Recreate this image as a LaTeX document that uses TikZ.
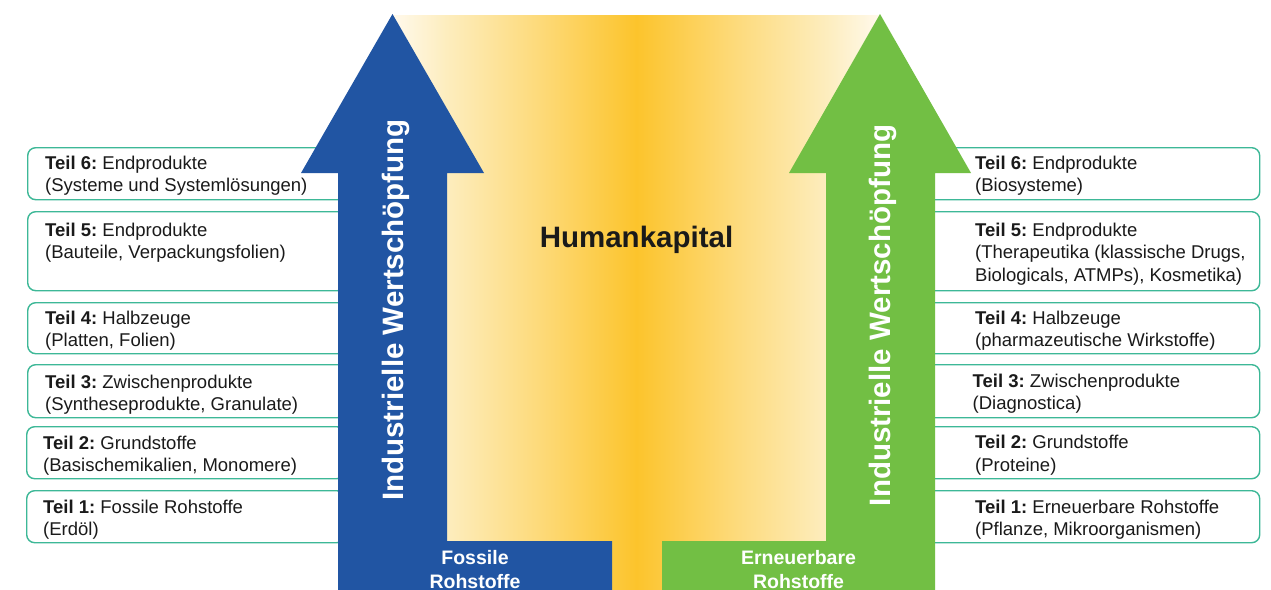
\documentclass[tikz,border=0pt]{standalone}
\usepackage{fontspec}
\setmainfont{Liberation Sans}
\frenchspacing

\definecolor{fossilblue}{HTML}{2155A3}
\definecolor{renewgreen}{HTML}{72BF44}
\definecolor{boxteal}{HTML}{3DB897}
\definecolor{txtgray}{HTML}{1A1A1A}
\definecolor{hkEdge}{HTML}{FFF9EC}
\definecolor{hkPale}{HTML}{FDEDBE}
\definecolor{hkLight}{HTML}{FDDA7A}
\definecolor{hkGold}{HTML}{FCC42C}

% warm band behind the two arrows, brightest in the middle
\pgfdeclarehorizontalshading{humangrad}{100bp}{%
  color(0bp)=(hkEdge); color(25bp)=(hkEdge); color(30.5bp)=(hkPale);
  color(40bp)=(hkLight); color(50bp)=(hkGold); color(60bp)=(hkLight);
  color(69.5bp)=(hkPale); color(75bp)=(hkEdge); color(100bp)=(hkEdge)}

\tikzset{
  part/.style={draw=boxteal, line width=1.4pt, rounded corners=8pt,
    fill=white, inner sep=0pt, anchor=north west},
  lpart/.style={part, minimum width=318pt},
  rpart/.style={part, minimum width=334pt},
  % anchored at the baseline of the last line
  parttext/.style={anchor=base west, align=left, inner sep=0pt,
    text=txtgray, font=\fontsize{18.5}{22.5}\selectfont},
  arrowlabel/.style={rotate=90, anchor=base, inner sep=0pt, text=white,
    font=\fontsize{29.5}{30}\selectfont\bfseries},
  baselabel/.style={anchor=base, align=center, inner sep=0pt, text=white,
    font=\fontsize{19.5}{24}\selectfont\bfseries}
}

\begin{document}
\begin{tikzpicture}[x=1pt, y=-1pt]
\useasboundingbox (0,0) rectangle (1271,589);
\clip (0,0) rectangle (1271,589);
\fill[white] (0,0) rectangle (1271,589);

% Humankapital band
\shade[shading=humangrad] (393,15) rectangle (880,600);

% left column: fossil value chain
\node[lpart, minimum height=52pt] (L6) at (27,147) {};
\node[lpart, minimum height=79pt] (L5) at (27,211) {};
\node[lpart, minimum height=51pt] (L4) at (27,302) {};
\node[lpart, minimum height=53pt] (L3) at (27,364) {};
\node[lpart, minimum height=52pt] (L2) at (26,426) {};
\node[lpart, minimum height=52pt] (L1) at (26,490) {};

\node[parttext] (L6t) at (45,191.5) {\textbf{Teil 6:} Endprodukte\\(Systeme und Systemlösungen)};
\node[parttext] (L5t) at (45,258.5) {\textbf{Teil 5:} Endprodukte\\(Bauteile, Verpackungsfolien)};
\node[parttext] (L4t) at (45,346.5) {\textbf{Teil 4:} Halbzeuge\\(Platten, Folien)};
\node[parttext] (L3t) at (45,410.5) {\textbf{Teil 3:} Zwischenprodukte\\(Syntheseprodukte, Granulate)};
\node[parttext] (L2t) at (43,471.5) {\textbf{Teil 2:} Grundstoffe\\(Basischemikalien, Monomere)};
\node[parttext] (L1t) at (43,535.5) {\textbf{Teil 1:} Fossile Rohstoffe\\(Erdöl)};

% right column: renewable value chain
\node[rpart, minimum height=52pt] (R6) at (925,147) {};
\node[rpart, minimum height=79pt] (R5) at (925,211) {};
\node[rpart, minimum height=51pt] (R4) at (925,302) {};
\node[rpart, minimum height=53pt] (R3) at (925,364) {};
\node[rpart, minimum height=52pt] (R2) at (925,426) {};
\node[rpart, minimum height=52pt] (R1) at (925,490) {};

\node[parttext] (R6t) at (975,191.5) {\textbf{Teil 6:} Endprodukte\\(Biosysteme)};
\node[parttext] (R5t) at (975,281) {\textbf{Teil 5:} Endprodukte\\(Therapeutika (klassische Drugs,\\Biologicals, ATMPs), Kosmetika)};
\node[parttext] (R4t) at (975,346.5) {\textbf{Teil 4:} Halbzeuge\\(pharmazeutische Wirkstoffe)};
\node[parttext] (R3t) at (972.5,409.5) {\textbf{Teil 3:} Zwischenprodukte\\(Diagnostica)};
\node[parttext] (R2t) at (975,471) {\textbf{Teil 2:} Grundstoffe\\(Proteine)};
\node[parttext] (R1t) at (975,535.5) {\textbf{Teil 1:} Erneuerbare Rohstoffe\\(Pflanze, Mikroorganismen)};

% fossil arrow with its base block
\fill[fossilblue] (338,600) -- (338,173) -- (301,173) -- (392.5,14) -- (484,173)
  -- (447,173) -- (447,541) -- (612,541) -- (612,600) -- cycle;
% renewable arrow with its base block
\fill[renewgreen] (935,600) -- (935,173) -- (971,173) -- (880,14) -- (789,173)
  -- (826,173) -- (826,541) -- (662,541) -- (662,600) -- cycle;

\node[arrowlabel] (fosW) at (403,310) {Industrielle Wertschöpfung};
\node[arrowlabel] (renW) at (890,315.5) {Industrielle Wertschöpfung};

\node[baselabel] (fosB) at (475,588) {Fossile\\Rohstoffe};
\node[baselabel] (renB) at (798.5,588) {Erneuerbare\\Rohstoffe};

\node[anchor=base, inner sep=0pt, text=txtgray,
  font=\fontsize{29.5}{30}\selectfont\bfseries] (hk) at (636.5,247) {Humankapital};
\end{tikzpicture}
\end{document}
